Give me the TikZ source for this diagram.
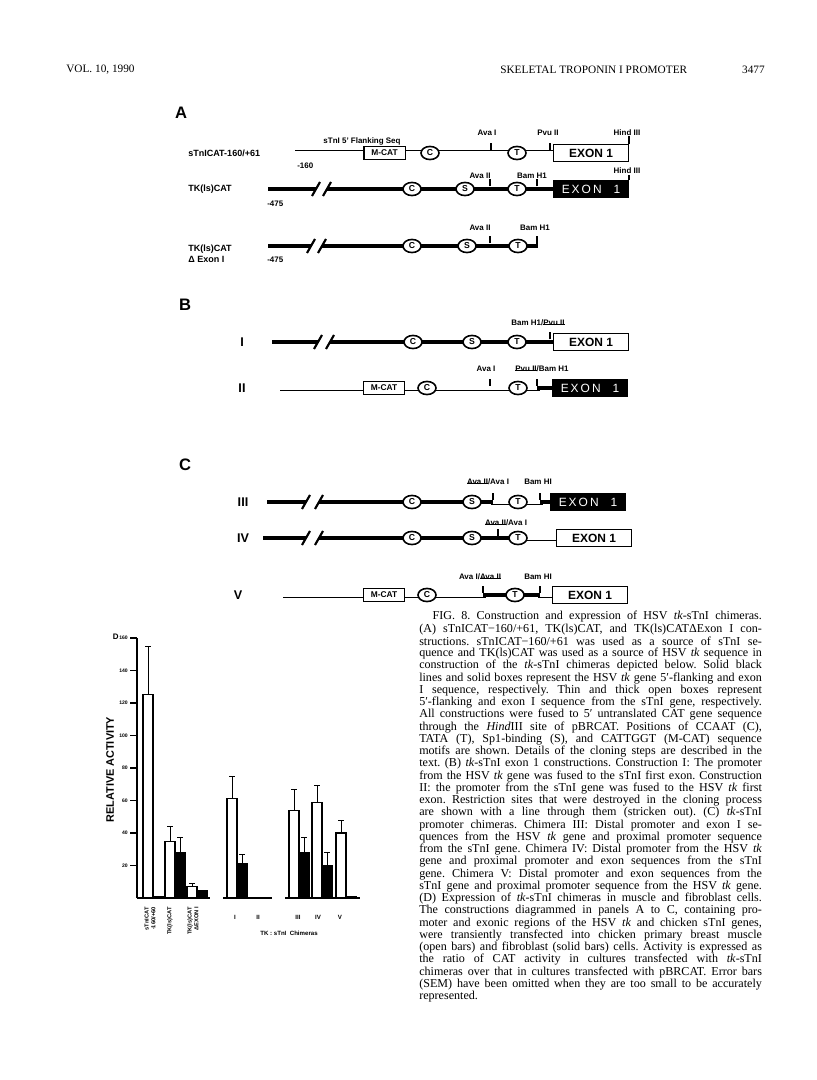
\documentclass[tikz,border=0pt]{standalone}
\usepackage{fontspec}
\setmainfont{Liberation Serif}
\setsansfont{Liberation Sans}
\usetikzlibrary{calc, shapes.geometric}

\pgfdeclarelayer{paper}
\pgfdeclarelayer{segs}
\pgfsetlayers{paper,segs,main}

% struck-out restriction site
\newsavebox{\strkbox}
\newcommand{\strk}[1]{\sbox{\strkbox}{#1}\rlap{\rule[0.32ex]{\wd\strkbox}{0.5pt}}\usebox{\strkbox}}
\newlength{\capw}
\setlength{\capw}{257bp}
\frenchspacing

\begin{document}
\begin{tikzpicture}[x=0.75bp, y=-0.75bp,
        hdr/.style={font=\fontsize{8.5}{10}\selectfont, inner sep=0},
        panel/.style={font=\sffamily\bfseries\fontsize{12.5}{14}\selectfont, inner sep=0},
        rowlbl/.style={font=\sffamily\bfseries\fontsize{6.8}{8.3}\selectfont, inner sep=0, anchor=west, align=left},
        roman/.style={font=\sffamily\bfseries\fontsize{9.5}{11}\selectfont, inner sep=0},
        sitelbl/.style={font=\sffamily\bfseries\fontsize{6}{7}\selectfont, inner sep=0},
        motif/.style={ellipse, draw, line width=1.2bp, fill=white, minimum width=13.5bp, minimum height=9.8bp, inner sep=0, font=\sffamily\bfseries\fontsize{6.5}{7}\selectfont},
        mcat/.style={rectangle, draw, line width=1bp, fill=white, minimum width=31bp, minimum height=9.5bp, inner sep=0, font=\sffamily\bfseries\fontsize{6.3}{7}\selectfont},
        exonopen/.style={rectangle, draw, line width=1bp, fill=white, minimum width=56bp, minimum height=12.5bp, inner sep=0, anchor=west, font=\sffamily\bfseries\fontsize{9}{10}\selectfont},
        exonsolid/.style={rectangle, draw, fill=black, text=white, line width=1bp, minimum width=56bp, minimum height=12.5bp, inner sep=0, anchor=west, font=\sffamily\fontsize{9}{10}\selectfont},
        openseg/.style={draw=black, double=white, line width=0.7bp, double distance=2.35bp, line cap=rect},
        tkline/.style={line width=3bp},
        site/.style={line width=0.8bp},
        brk/.pic={\draw[line width=1.6bp] (-4,7) -- (4,-7);},
        axisline/.style={line width=0.9bp},
        obar/.style={draw, fill=white, line width=0.8bp},
        sbar/.style={draw, fill=black, line width=0.8bp},
        errbar/.style={line width=0.7bp},
        ticklbl/.style={font=\sffamily\bfseries\fontsize{3.8}{4}\selectfont, anchor=east, inner sep=0},
        barlbl/.style={font=\sffamily\bfseries\fontsize{4.3}{5}\selectfont, rotate=90, anchor=east, align=right, inner sep=0},
        grlbl/.style={font=\sffamily\bfseries\fontsize{4.6}{5}\selectfont, inner sep=0},
        capline/.style={anchor=west, inner sep=0, font=\fontsize{9.1}{9.1}\selectfont}
    ]

    % Page
    \begin{pgfonlayer}{paper}
        \path[use as bounding box, fill=white] (0,0) rectangle (816,1080);
    \end{pgfonlayer}

    % Running head
    \node[hdr, anchor=west] (vol) at (66,70) {VOL. 10, 1990};
    \node[hdr, anchor=west] (run) at (500,70) {SKELETAL TROPONIN I PROMOTER};
    \node[hdr, anchor=east] (pg) at (765,70) {3477};

    % ---------------- Panel A ----------------
    \node[panel] (pA) at (181,113) {A};

    % sTnICAT-160/+61
    \node[rowlbl] (A1name) at (188,153) {sTnICAT-160/+61};
    \coordinate (A1s) at (297,153);
    \node[mcat] (A1mcat) at (384.5,153) {M-CAT};
    \node[motif] (A1C) at (430,153) {C};
    \coordinate (A1ava) at (491,153);
    \node[motif] (A1T) at (517,153) {T};
    \coordinate (A1pvu) at (550,153);
    \node[exonopen] (A1exon) at (553,153) {EXON 1};
    \node[sitelbl, anchor=west] (A1num) at (297,166) {-160};
    \node[sitelbl] (A1flank) at (362,141) {sTnI 5' Flanking Seq};
    \node[sitelbl] (A1avaL) at (487,133) {Ava I};
    \node[sitelbl] (A1pvuL) at (548,133) {Pvu II};
    \node[sitelbl] (A1hindL) at (627,133) {Hind III};

    % TK(ls)CAT
    \node[rowlbl] (A2name) at (188,189) {TK(ls)CAT};
    \coordinate (A2s) at (268,189);
    \coordinate (A2b1) at (316,189);
    \coordinate (A2b2) at (327,189);
    \node[motif] (A2C) at (412,189) {C};
    \node[motif] (A2S) at (465,189) {S};
    \coordinate (A2ava) at (490,189);
    \node[motif] (A2T) at (517,189) {T};
    \coordinate (A2bam) at (537,189);
    \node[exonsolid] (A2exon) at (553,189) {E\,X\,O\,N\quad1};
    \node[sitelbl, anchor=west] (A2num) at (267,204) {-475};
    \node[sitelbl] (A2avaL) at (480,176) {Ava II};
    \node[sitelbl] (A2bamL) at (532,176) {Bam H1};
    \node[sitelbl] (A2hindL) at (627,171) {Hind III};

    % TK(ls)CAT delta exon I
    \node[rowlbl] (A3name) at (188,253.5) {TK(ls)CAT\\Δ Exon I};
    \coordinate (A3s) at (268,246);
    \coordinate (A3b1) at (311,246);
    \coordinate (A3b2) at (322,246);
    \node[motif] (A3C) at (412,246) {C};
    \node[motif] (A3S) at (467,246) {S};
    \coordinate (A3ava) at (490,246);
    \node[motif] (A3T) at (518,246) {T};
    \coordinate (A3end) at (537,246);
    \node[sitelbl, anchor=west] (A3num) at (267,260) {-475};
    \node[sitelbl] (A3avaL) at (480,228) {Ava II};
    \node[sitelbl] (A3bamL) at (535,228) {Bam H1};

    % ---------------- Panel B ----------------
    \node[panel] (pB) at (185,305) {B};

    % Construction I
    \node[roman] (B1name) at (242,342) {I};
    \coordinate (B1s) at (272,342);
    \coordinate (B1b1) at (318,342);
    \coordinate (B1b2) at (330,342);
    \node[motif] (B1C) at (413,342) {C};
    \node[motif] (B1S) at (472,342) {S};
    \node[motif] (B1T) at (517,342) {T};
    \coordinate (B1pvu) at (550,342);
    \node[exonopen] (B1exon) at (553,342) {EXON 1};
    \node[sitelbl] (B1pvuL) at (538,323) {Bam H1/\strk{Pvu II}};

    % Construction II
    \node[roman] (B2name) at (242,388) {II};
    \coordinate (B2s) at (282,388);
    \node[mcat] (B2mcat) at (384,388) {M-CAT};
    \node[motif] (B2C) at (427,388) {C};
    \coordinate (B2ava) at (490,388);
    \node[motif] (B2T) at (518,388) {T};
    \coordinate (B2bam) at (537,388);
    \node[exonsolid] (B2exon) at (552,388) {E\,X\,O\,N\quad1};
    \node[sitelbl] (B2avaL) at (486,369) {Ava I};
    \node[sitelbl] (B2bamL) at (542,369) {\strk{Pvu II}/Bam H1};

    % ---------------- Panel C ----------------
    \node[panel] (pC) at (185,465) {C};

    % Chimera III
    \node[roman] (C3name) at (243,502) {III};
    \coordinate (C3s) at (267,502);
    \coordinate (C3b1) at (306,502);
    \coordinate (C3b2) at (319,502);
    \node[motif] (C3C) at (412,502) {C};
    \node[motif] (C3S) at (472,502) {S};
    \coordinate (C3ava) at (493,502);
    \node[motif] (C3T) at (518,502) {T};
    \coordinate (C3bam) at (540,502);
    \node[exonsolid] (C3exon) at (550,502) {E\,X\,O\,N\quad1};
    \node[sitelbl] (C3avaL) at (488,482) {\strk{Ava II}/Ava I};
    \node[sitelbl] (C3bamL) at (538,482) {Bam HI};

    % Chimera IV
    \node[roman] (C4name) at (243,538) {IV};
    \coordinate (C4s) at (263,538);
    \coordinate (C4b1) at (306,538);
    \coordinate (C4b2) at (319,538);
    \node[motif] (C4C) at (412,538) {C};
    \node[motif] (C4S) at (472,538) {S};
    \coordinate (C4ava) at (498,538);
    \node[motif] (C4T) at (518,538) {T};
    \node[exonopen] (C4exon) at (556,538) {EXON 1};
    \node[sitelbl] (C4avaL) at (506,523) {\strk{Ava II}/Ava I};

    % Chimera V
    \node[roman] (C5name) at (238,595) {V};
    \coordinate (C5s) at (285,595);
    \node[mcat] (C5mcat) at (384,595) {M-CAT};
    \node[motif] (C5C) at (427,595) {C};
    \coordinate (C5ava) at (483,595);
    \node[motif] (C5T) at (515,595) {T};
    \coordinate (C5bam) at (540,595);
    \node[exonopen] (C5exon) at (552,595) {EXON 1};
    \node[sitelbl] (C5avaL) at (480,577) {Ava I/\strk{Ava II}};
    \node[sitelbl] (C5bamL) at (538,577) {Bam HI};

    % Sequence segments, behind the motifs and boxes
    \begin{pgfonlayer}{segs}
        \draw[openseg] (A1s) -- (A1exon.center);
        \draw[tkline] (A2s) -- (A2b1);
        \draw[tkline] (A2b2) -- (A2exon.center);
        \draw[tkline] (A3s) -- (A3b1);
        \draw[tkline] (A3b2) -- (A3end);
        \draw[tkline] (B1s) -- (B1b1);
        \draw[tkline] (B1b2) -- (B1exon.center);
        \draw[openseg] (B2s) -- (B2bam);
        \draw[tkline] (B2bam) -- (B2exon.center);
        \draw[openseg] (C3ava) -- (C3bam);
        \draw[tkline] (C3s) -- (C3b1);
        \draw[tkline] (C3b2) -- (C3ava);
        \draw[tkline] (C3bam) -- (C3exon.center);
        \draw[openseg] (C4T.center) -- (C4exon.center);
        \draw[tkline] (C4s) -- (C4b1);
        \draw[tkline] (C4b2) -- (C4T.center);
        \draw[openseg] (C5s) -- (C5ava);
        \draw[openseg] (C5bam) -- (C5exon.center);
        \draw[tkline] (C5ava) -- (C5bam);
    \end{pgfonlayer}

    % Breaks in the tk 5' flank
    \foreach \b in {A2b1, A2b2, A3b1, A3b2, B1b1, B1b2, C3b1, C3b2, C4b1, C4b2}
        \pic at (\b) {brk};

    % Restriction sites
    \foreach \s in {A1ava, A1pvu, A2ava, A2bam, A3ava, B1pvu, B2ava, B2bam, C3ava, C3bam, C4ava, C5ava, C5bam}
        \draw[site] ($(\s)+(0,-2.5)$) -- ++(0,-7);
    \draw[site] ($(A3end)+(0,2)$) -- ++(0,-11.5);
    \draw[site] (A1exon.north east) -- ++(0,-8);
    \draw[site] (A2exon.north east) -- ++(0,-5);

    % ---------------- Panel D ----------------
    \begin{scope}[shift={(0,898)}, y=1.21875bp]
        \draw[axisline] (137,0) -- (137,160);
        \foreach \v in {20,40,...,160} {
            \draw[axisline] (130,\v) -- (137,\v);
            \node[ticklbl] at (128,\v) {\v};
        }
        \node[font=\sffamily\bfseries\fontsize{6}{7}\selectfont, inner sep=0, anchor=east] (pD) at (119,161) {D};
        \node[font=\sffamily\bfseries\fontsize{8.2}{9}\selectfont, inner sep=0, rotate=90] (yl) at (110,79) {RELATIVE ACTIVITY};

        % baselines
        \draw[line width=1.2bp] (137,0) -- (210,0);
        \draw[line width=1.2bp] (223,0) -- (272,0);
        \draw[line width=1.2bp] (285,0) -- (360,0);

        % muscle (open) and fibroblast (solid) bars
        \foreach \bx/\bv in {143/125, 165/34.5, 187/7, 227/61.5, 248/0.6, 289/54, 312/58.5, 336/40}
            \draw[obar] (\bx,0) rectangle ++(10,\bv);
        \foreach \bx/\bv in {153/1, 175/28, 197/4.5, 237/21.5, 258/0.6, 299/28, 322/20, 346/1}
            \draw[sbar] (\bx,0) rectangle ++(10,\bv);

        % SEM
        \foreach \ex/\elo/\ehi in {148/125/155, 170/34.5/44, 180/28/37.5, 192/7/9, 232/61.5/74.5, 242/21.5/27, 294/54/67, 304/28/37, 317/58.5/69.5, 327/20/28, 341/40/48}
            \draw[errbar] (\ex,\elo) -- (\ex,\ehi) (\ex-3,\ehi) -- (\ex+3,\ehi);

        % bar labels
        \node[barlbl] (lSt) at (150,-5.5) {sTnICAT\\-160/+60};
        \node[barlbl] (lTk) at (170,-5.5) {TK(ls)CAT};
        \node[barlbl] (lDe) at (193,-5.5) {TK(ls)CAT\\ΔEXON I};
        \node[grlbl] (lI) at (235,-11.7) {I};
        \node[grlbl] (lII) at (258,-11.7) {II};
        \node[grlbl] (lIII) at (298,-11.7) {III};
        \node[grlbl] (lIV) at (318,-11.7) {IV};
        \node[grlbl] (lV) at (340,-11.7) {V};
        \node[grlbl] (lChim) at (289,-21.5) {TK : sTnI \ Chimeras};
    \end{scope}

    % ---------------- Legend ----------------
    \foreach \capl [count=\ci] in {
        {\hspace*{10pt}FIG. 8. Construction and expression of HSV \textit{tk}-sTnI chimeras.},
        {(A) sTnICAT−160/+61, TK(ls)CAT, and TK(ls)CATΔExon I con-},
        {structions. sTnICAT−160/+61 was used as a source of sTnI se-},
        {quence and TK(ls)CAT was used as a source of HSV \textit{tk} sequence in},
        {construction of the \textit{tk}-sTnI chimeras depicted below. Solid black},
        {lines and solid boxes represent the HSV \textit{tk} gene 5′-flanking and exon},
        {I sequence, respectively. Thin and thick open boxes represent},
        {5′-flanking and exon I sequence from the sTnI gene, respectively.},
        {All constructions were fused to 5′ untranslated CAT gene sequence},
        {through the \textit{Hind}III site of pBRCAT. Positions of CCAAT (C),},
        {TATA (T), Sp1-binding (S), and CATTGGT (M-CAT) sequence},
        {motifs are shown. Details of the cloning steps are described in the},
        {text. (B) \textit{tk}-sTnI exon 1 constructions. Construction I: The promoter},
        {from the HSV \textit{tk} gene was fused to the sTnI first exon. Construction},
        {II: the promoter from the sTnI gene was fused to the HSV \textit{tk} first},
        {exon. Restriction sites that were destroyed in the cloning process},
        {are shown with a line through them (stricken out). (C) \textit{tk}-sTnI},
        {promoter chimeras. Chimera III: Distal promoter and exon I se-},
        {quences from the HSV \textit{tk} gene and proximal promoter sequence},
        {from the sTnI gene. Chimera IV: Distal promoter from the HSV \textit{tk}},
        {gene and proximal promoter and exon sequences from the sTnI},
        {gene. Chimera V: Distal promoter and exon sequences from the},
        {sTnI gene and proximal promoter sequence from the HSV \textit{tk} gene.},
        {(D) Expression of \textit{tk}-sTnI chimeras in muscle and fibroblast cells.},
        {The constructions diagrammed in panels A to C, containing pro-},
        {moter and exonic regions of the HSV \textit{tk} and chicken sTnI genes,},
        {were transiently transfected into chicken primary breast muscle},
        {(open bars) and fibroblast (solid bars) cells. Activity is expressed as},
        {the ratio of CAT activity in cultures transfected with \textit{tk}-sTnI},
        {chimeras over that in cultures transfected with pBRCAT. Error bars},
        {(SEM) have been omitted when they are too small to be accurately},
        {represented.\hfill}}
        \node[capline] (cap\ci) at (419,{617+12.25*(\ci-1)}) {\makebox[\capw][s]{\capl}};

\end{tikzpicture}
\end{document}
